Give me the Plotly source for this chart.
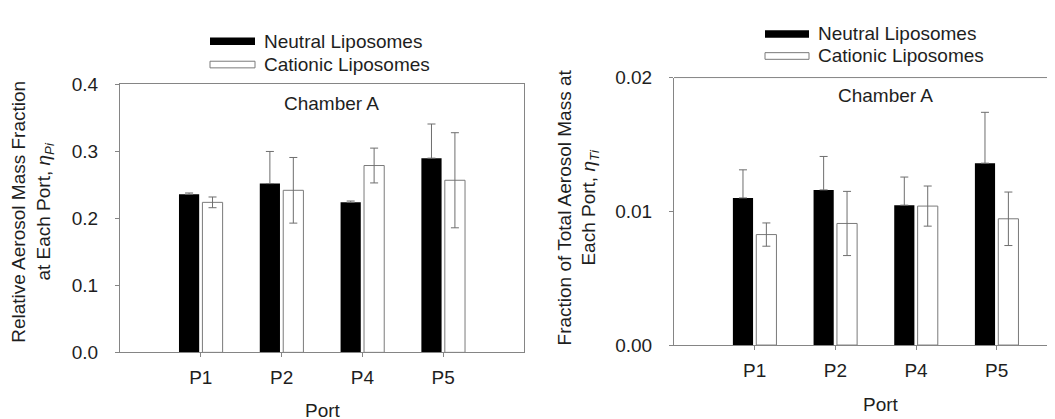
import plotly.graph_objects as go

# ---------------- data ----------------
ports = ["P1", "P2", "P4", "P5"]

# Left panel: relative aerosol mass fraction at each port (eta_Pi)
rel_neutral = [0.236, 0.252, 0.224, 0.290]
rel_neutral_err = [0.002, 0.048, 0.002, 0.051]
rel_cationic = [0.224, 0.242, 0.279, 0.257]
rel_cationic_err = [0.008, 0.049, 0.026, 0.071]

# Right panel: fraction of total aerosol mass at each port (eta_Ti)
tot_neutral = [0.0110, 0.0116, 0.01046, 0.0136]
tot_neutral_err = [0.0021, 0.0025, 0.0021, 0.0038]
tot_cationic = [0.00826, 0.00909, 0.01039, 0.00944]
tot_cationic_err = [0.00087, 0.0024, 0.0015, 0.0020]

series_names = ["Neutral Liposomes", "Cationic Liposomes"]
panel_title = "Chamber A"

# ---------------- styling ----------------
W, H = 1055, 419
FONT = "Liberation Sans, Arial, sans-serif"
TXT = "#1e1e1e"
AX = "#858585"
ERR = "#6e6e6e"
FS = 19


def px_x(x):
    return x / W


def px_y(y):
    return 1 - y / H


fig = go.Figure()


def add_panel(xa, ya, neutral, n_err, cationic, c_err):
    fig.add_trace(go.Bar(
        x=ports, y=neutral, name=series_names[0], xaxis=xa, yaxis=ya,
        offset=-0.27, width=0.25,
        marker=dict(color="#000000", line=dict(color="#000000", width=0)),
        error_y=dict(type="data", array=n_err, arrayminus=[0] * len(n_err),
                     symmetric=False, color=ERR, thickness=1, width=4),
        showlegend=False,
    ))
    fig.add_trace(go.Bar(
        x=ports, y=cationic, name=series_names[1], xaxis=xa, yaxis=ya,
        offset=0.02, width=0.25,
        marker=dict(color="#ffffff", line=dict(color="#7a7a7a", width=1)),
        error_y=dict(type="data", array=c_err, symmetric=True,
                     color=ERR, thickness=1, width=4),
        showlegend=False,
    ))


add_panel("x", "y", rel_neutral, rel_neutral_err, rel_cationic, rel_cationic_err)
add_panel("x2", "y2", tot_neutral, tot_neutral_err, tot_cationic, tot_cationic_err)

tickfont = dict(family=FONT, size=FS, color=TXT)
common_x = dict(type="category", showline=True, linecolor=AX, linewidth=1,
                ticks="outside", ticklen=4, tickcolor=AX, tickwidth=1,
                showgrid=False, zeroline=False, tickfont=tickfont,
                ticklabelstandoff=4, fixedrange=True)
common_y = dict(showline=True, linecolor=AX, linewidth=1,
                ticks="outside", ticklen=4, tickcolor=AX, tickwidth=1,
                showgrid=False, zeroline=False, tickfont=tickfont,
                ticklabelstandoff=13, fixedrange=True)

# left panel: axis from x=112 to 516 px, y from 70 to 352 px
fig.update_layout(
    xaxis=dict(**common_x, domain=[px_x(112), px_x(516)], range=[-1.0, 4.0],
               anchor="y", mirror=True),
    yaxis=dict(**common_y, domain=[px_y(352), px_y(70)], range=[0, 0.4],
               dtick=0.1, tickformat=".1f", anchor="x", mirror=True),
    # right panel: axis starts at 666 px; frame continues beyond the page edge
    xaxis2=dict(**common_x, domain=[px_x(666), 1.0],
                range=[-1.0, -1.0 + (W - 666) / 80.67],
                anchor="y2"),
    yaxis2=dict(**common_y, domain=[px_y(344.3), px_y(62.7)], range=[0, 0.02],
                dtick=0.01, tickformat=".2f", anchor="x2"),
)

shapes = [
    # top border of the right panel (its right border is off the page)
    dict(type="line", xref="x2 domain", yref="y2 domain", x0=0, x1=1, y0=1, y1=1,
         line=dict(color=AX, width=1)),
]

annotations = []

# legends drawn as wide swatches like the original
def add_legend(x0, x1, yc1, yc2, h1, h2, tx):
    shapes.append(dict(type="rect", xref="paper", yref="paper",
                       x0=px_x(x0), x1=px_x(x1), y0=px_y(yc1 + h1 / 2), y1=px_y(yc1 - h1 / 2),
                       fillcolor="#000000", line=dict(color="#000000", width=0)))
    shapes.append(dict(type="rect", xref="paper", yref="paper",
                       x0=px_x(x0), x1=px_x(x1), y0=px_y(yc2 + h2 / 2), y1=px_y(yc2 - h2 / 2),
                       fillcolor="#ffffff", line=dict(color="#7a7a7a", width=1)))
    for name, yc in zip(series_names, [yc1, yc2]):
        annotations.append(dict(text=name, xref="paper", yref="paper",
                                x=px_x(tx), y=px_y(yc), xanchor="left", yanchor="middle",
                                showarrow=False, font=dict(family=FONT, size=FS, color=TXT)))


add_legend(202, 247, 24.5, 49, 8, 7, 254)
add_legend(757, 801, 16.8, 40, 8, 7, 808)

def add_text(text, x, y, angle=0):
    annotations.append(dict(text=text, xref="paper", yref="paper", x=px_x(x), y=px_y(y),
                            xanchor="center", yanchor="middle", showarrow=False,
                            textangle=angle, font=dict(family=FONT, size=FS, color=TXT)))


add_text(panel_title, 323, 90)
add_text(panel_title, 877, 82)
add_text("Port", 315, 413)
add_text("Port", 873, 407)
add_text("Relative Aerosol Mass Fraction<br>at Each Port, <i>η</i><sub><i>Pi</i></sub>",
         25, 204, -90)
add_text("Fraction of Total Aerosol Mass at<br>Each Port, <i>η</i><sub><i>Ti</i></sub>",
         570.5, 200, -90)

fig.update_layout(
    width=W, height=H,
    margin=dict(l=0, r=0, t=0, b=0),
    paper_bgcolor="#ffffff", plot_bgcolor="#ffffff",
    font=dict(family=FONT, size=FS, color=TXT),
    showlegend=False,
    shapes=shapes,
    annotations=annotations,
)

fig.write_html("out.html", config={"displayModeBar": False})
